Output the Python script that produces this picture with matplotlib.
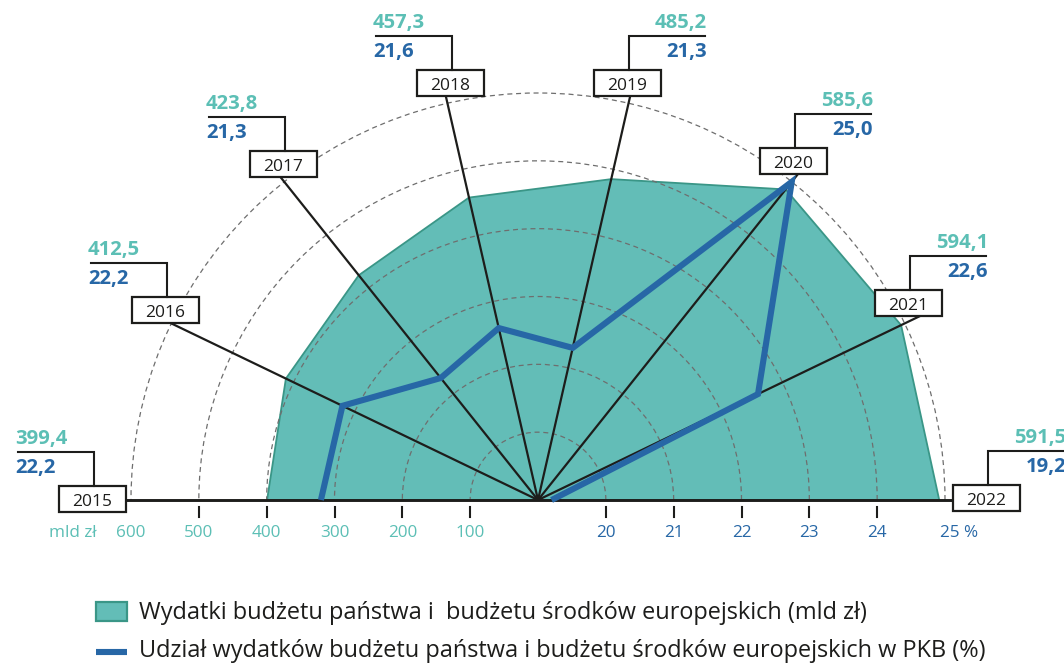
import numpy as np
import matplotlib
matplotlib.use("Agg")
import matplotlib.pyplot as plt
from matplotlib.patches import Polygon, Rectangle, Arc

# ---- data -------------------------------------------------------------
years = ["2015", "2016", "2017", "2018", "2019", "2020", "2021", "2022"]
spending = [399.4, 412.5, 423.8, 457.3, 485.2, 585.6, 594.1, 591.5]      # mld zł
gdp_share = [22.2, 22.2, 21.3, 21.6, 21.3, 25.0, 22.6, 19.2]             # % PKB
spending_ticks = [600, 500, 400, 300, 200, 100]
share_ticks = [20, 21, 22, 23, 24, 25]

legend_labels = [
    "Wydatki budżetu państwa i  budżetu środków europejskich (mld zł)",
    "Udział wydatków budżetu państwa i budżetu środków europejskich w PKB (%)",
]

# ---- styling ----------------------------------------------------------
SHARE_BASE = 19.0      # percentage shown at the centre
SHARE_UNIT = 100.0     # radial units per percentage point (600 mld zł == 25 %)
TEAL_FILL = "#63bdb7"
TEAL_EDGE = "#3a9687"
TEAL_TEXT = "#5cbfb5"
BLUE = "#2767a6"
INK = "#1d1d1b"
RING = "#6e6e6e"

plt.rcParams["font.family"] = ["Open Sans", "DejaVu Sans"]

W, H = 1064, 664
fig = plt.figure(figsize=(W / 100, H / 100), dpi=100)

# main axes: radial units, centre of the half-disc at the origin
PX = 407 / 600.0
CX, CY = 538, 500
ax = fig.add_axes([0, 0, 1, 1])
ax.set_xlim(-CX / PX, (W - CX) / PX)
ax.set_ylim(-(H - CY) / PX, CY / PX)
ax.axis("off")

n = len(years)
theta = np.deg2rad(180 - np.arange(n) * 180 / (n - 1))
sp = np.asarray(spending)
sh = (np.asarray(gdp_share) - SHARE_BASE) * SHARE_UNIT

# spending area
ax.add_patch(Polygon(np.column_stack([sp * np.cos(theta), sp * np.sin(theta)]),
                     closed=True, facecolor=TEAL_FILL, edgecolor=TEAL_EDGE,
                     lw=1.3, zorder=2))

# dashed rings
for k in range(1, 7):
    d = 2 * 100 * k
    ax.add_patch(Arc((0, 0), d, d, theta1=0, theta2=180, color=RING, lw=0.9,
                     ls=(0, (4, 3)), zorder=3))

# spokes
SPOKE = 634
for t in theta[1:-1]:
    ax.plot([0, SPOKE * np.cos(t)], [0, SPOKE * np.sin(t)], color=INK, lw=1.6,
            zorder=4, solid_capstyle="butt")
ax.plot([-612, 612], [0, 0], color=INK, lw=2.1, zorder=4, solid_capstyle="butt")

# share line
ax.plot(sh * np.cos(theta), sh * np.sin(theta), color=BLUE, lw=4.4, zorder=5,
        solid_joinstyle="miter", solid_capstyle="butt")

# axis ticks and labels
TICK_Y0, TICK_Y1 = -10.5, -25.0
LAB_Y = -48.5
TICK_FS = 12.3
for v in spending_ticks:
    if v < 600:
        ax.plot([-v, -v], [TICK_Y0, TICK_Y1], color=INK, lw=1.5, zorder=4)
    ax.text(-v, LAB_Y, str(v), ha="center", va="center", fontsize=TICK_FS,
            color=TEAL_TEXT)
ax.text(-650, LAB_Y, "mld zł", ha="right", va="center", fontsize=TICK_FS,
        color=TEAL_TEXT)
for p in share_ticks:
    x = (p - SHARE_BASE) * SHARE_UNIT
    if p < 25:
        ax.plot([x, x], [TICK_Y0, TICK_Y1], color=INK, lw=1.5, zorder=4)
        ax.text(x, LAB_Y, str(p), ha="center", va="center", fontsize=TICK_FS,
                color=BLUE)
    else:
        ax.text(x - 7, LAB_Y, f"{p} %", ha="left", va="center", fontsize=TICK_FS,
                color=BLUE)

# ---- overlay in figure pixels for the year callouts and legend ----------
ov = fig.add_axes([0, 0, 1, 1])
ov.set_xlim(0, W)
ov.set_ylim(H, 0)
ov.axis("off")
ov.patch.set_alpha(0)

box_centres = [(92, 499), (165, 310), (283, 164), (450, 83),
               (627, 83), (793, 161), (908, 303), (986, 498)]
sides = ["left"] * 4 + ["right"] * 4
BW, BH = 67, 26
ARM = 76
VAL_FS = 14.6


def fmt(v):
    return f"{v:.1f}".replace(".", ",")


for (bx, by), yr, v, p, side in zip(box_centres, years, spending, gdp_share, sides):
    ov.add_patch(Rectangle((bx - BW / 2, by - BH / 2), BW, BH, facecolor="white",
                           edgecolor=INK, lw=1.6, zorder=6))
    ov.text(bx, by + 7, yr, ha="center", va="baseline", fontsize=12.5,
            color=INK, zorder=7)
    top = by - BH / 2
    vx = bx + 2
    h = top - 34
    if side == "left":
        end = vx - ARM
        ov.plot([end, vx, vx], [h, h, top], color=INK, lw=1.5, zorder=6,
                solid_joinstyle="miter")
        ov.text(end - 3, h - 8, fmt(v), ha="left", va="baseline", fontsize=VAL_FS,
                fontweight="bold", color=TEAL_TEXT)
        ov.text(end - 3, h + 21, fmt(p), ha="left", va="baseline", fontsize=VAL_FS,
                fontweight="bold", color=BLUE)
    else:
        end = vx + ARM
        ov.plot([end, vx, vx], [h, h, top], color=INK, lw=1.5, zorder=6,
                solid_joinstyle="miter")
        ov.text(end + 2, h - 8, fmt(v), ha="right", va="baseline", fontsize=VAL_FS,
                fontweight="bold", color=TEAL_TEXT)
        ov.text(end + 2, h + 21, fmt(p), ha="right", va="baseline", fontsize=VAL_FS,
                fontweight="bold", color=BLUE)

# legend
LEG_FS = 16.9
ov.add_patch(Rectangle((96, 602), 31, 19, facecolor=TEAL_FILL,
                       edgecolor=TEAL_EDGE, lw=1.6))
ov.text(139, 619, legend_labels[0], ha="left", va="baseline", fontsize=LEG_FS,
        color=INK)
ov.plot([96, 127], [652, 652], color=BLUE, lw=4.4, solid_capstyle="butt")
ov.text(139, 657, legend_labels[1], ha="left", va="baseline", fontsize=LEG_FS,
        color=INK)

fig.savefig("out.png", dpi=100)
